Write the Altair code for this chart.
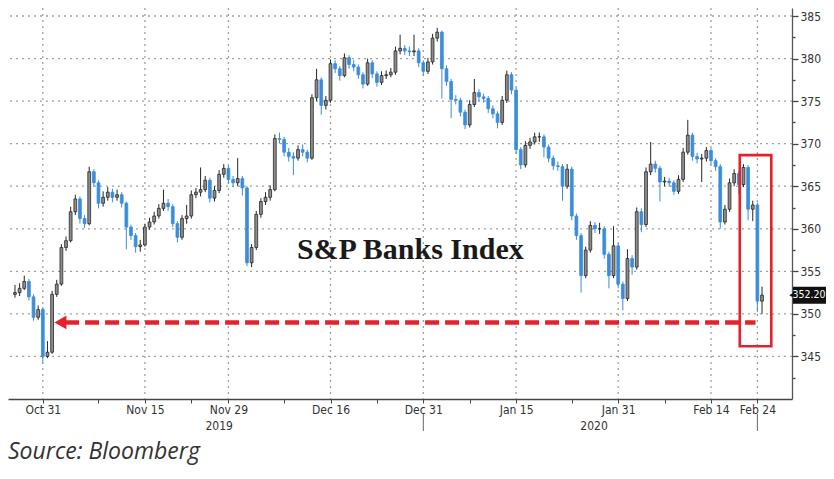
import altair as alt
import pandas as pd

# ---------------- data ----------------
# half-day candles, Oct 28 2019 .. Feb 24 2020 (trading-day index = bar/2)
first_open = 352.3
closes = [
    352.5, 353.0, 353.8, 352.0, 349.6, 350.5, 345.0, 345.5, 352.3, 353.5,
    357.8, 358.6, 362.0, 363.5, 361.2, 360.6, 366.7, 365.4, 363.0, 363.7,
    364.3, 363.7, 364.0, 363.0, 360.2, 359.2, 357.9, 358.1, 360.2, 360.8,
    361.5, 362.4, 363.0, 362.6, 360.6, 359.0, 361.2, 361.5, 364.0, 364.3,
    364.6, 365.7, 363.6, 364.5, 366.4, 367.1, 365.8, 365.4, 365.9, 364.8,
    356.0, 357.8, 361.7, 363.2, 363.7, 364.6, 370.6, 370.5, 369.0, 368.5,
    368.3, 369.3, 369.0, 368.3, 375.4, 377.5, 374.5, 375.1, 379.4, 378.8,
    378.0, 380.1, 379.3, 379.0, 378.1, 377.0, 379.5, 378.2, 377.2, 378.0,
    378.1, 378.4, 380.9, 381.2, 380.9, 380.8, 380.9, 379.5, 378.5, 379.6,
    382.4, 383.1, 378.8, 377.3, 375.2, 375.1, 373.7, 372.2, 374.6, 376.0,
    375.5, 375.3, 374.1, 373.5, 372.5, 375.1, 378.1, 376.3, 369.3, 367.5,
    369.8, 370.2, 370.8, 370.8, 369.6, 368.3, 367.4, 367.3, 365.0, 367.0,
    361.5, 359.2, 354.5, 357.5, 360.4, 360.0, 360.0, 357.0, 354.5, 358.0,
    353.5, 351.8, 356.5, 355.5, 362.0, 360.5, 366.7, 367.6, 367.1, 365.5,
    365.6, 365.4, 364.4, 365.8, 369.0, 371.0, 368.5, 368.2, 368.3, 369.2,
    368.0, 367.3, 360.8, 362.3, 365.4, 366.5, 365.2, 367.2, 362.3, 362.8,
    351.5, 352.2,
]
highs = [
    353.4, 353.6, 354.5, 354.1, 352.3, 351.0, 350.8, 346.8, 352.7, 354.0,
    358.2, 359.1, 362.6, 364.0, 363.8, 361.6, 367.3, 367.0, 365.7, 364.4,
    364.9, 364.7, 364.6, 364.3, 363.2, 360.5, 359.5, 358.7, 360.6, 361.3,
    362.0, 362.9, 364.6, 363.5, 362.9, 360.9, 361.6, 362.8, 364.5, 364.8,
    367.2, 366.2, 366.0, 365.0, 366.9, 367.6, 367.4, 366.2, 368.3, 366.2,
    365.0, 358.2, 362.1, 363.6, 364.3, 365.1, 371.1, 371.3, 370.8, 369.5,
    369.0, 369.8, 369.9, 369.3, 375.8, 378.8, 377.8, 375.6, 379.9, 379.8,
    379.1, 380.6, 380.4, 379.8, 379.3, 378.4, 380.0, 379.8, 378.5, 378.5,
    378.6, 378.9, 381.4, 382.8, 381.6, 381.4, 382.8, 381.2, 379.8, 380.1,
    382.9, 383.6, 383.3, 379.2, 377.6, 375.7, 375.4, 374.0, 375.1, 377.6,
    376.4, 375.9, 375.6, 374.5, 373.8, 375.6, 378.6, 378.4, 376.6, 369.6,
    370.3, 370.7, 371.3, 371.3, 371.1, 369.9, 368.6, 367.9, 367.6, 367.6,
    367.3, 361.8, 359.5, 357.9, 360.9, 360.8, 360.7, 360.3, 357.3, 360.3,
    358.3, 353.8, 357.6, 356.9, 362.5, 362.4, 367.2, 370.2, 368.0, 367.4,
    366.1, 366.0, 365.7, 366.3, 369.5, 372.8, 371.3, 368.9, 368.8, 369.6,
    369.5, 368.3, 367.6, 362.8, 365.9, 367.0, 366.8, 367.6, 367.5, 363.3,
    363.1, 353.2,
]
lows = [
    351.9, 352.1, 352.8, 351.6, 349.2, 349.3, 344.2, 344.8, 345.3, 352.0,
    353.3, 357.4, 358.4, 361.6, 360.6, 360.1, 360.4, 364.9, 362.4, 362.6,
    363.3, 363.1, 363.3, 362.5, 357.6, 358.7, 357.2, 357.3, 357.9, 359.9,
    360.5, 361.2, 362.1, 362.1, 360.2, 358.4, 358.7, 360.6, 361.2, 363.6,
    363.8, 364.3, 363.1, 363.2, 364.2, 366.0, 365.3, 364.9, 365.0, 363.9,
    355.6, 355.5, 357.5, 361.3, 362.8, 363.3, 364.4, 370.0, 368.5, 367.9,
    366.3, 368.0, 368.5, 367.8, 368.1, 375.0, 373.4, 374.0, 374.8, 378.3,
    377.4, 377.8, 378.8, 378.5, 377.6, 376.5, 376.8, 377.7, 376.7, 376.9,
    377.6, 377.8, 378.1, 380.5, 380.4, 380.3, 380.3, 379.0, 378.0, 378.2,
    379.3, 382.0, 375.3, 376.8, 373.0, 374.6, 373.2, 371.7, 371.9, 374.3,
    375.0, 374.8, 373.6, 373.0, 371.8, 372.2, 374.8, 375.8, 368.8, 367.0,
    367.2, 369.4, 369.9, 370.2, 368.4, 367.8, 366.9, 366.8, 363.3, 364.7,
    361.0, 358.7, 352.5, 354.2, 357.2, 359.5, 359.4, 356.5, 353.0, 354.2,
    353.0, 350.4, 351.5, 354.6, 355.2, 359.6, 360.2, 366.3, 366.6, 363.2,
    365.0, 364.9, 364.0, 364.1, 365.5, 368.7, 368.0, 367.7, 365.5, 367.9,
    367.5, 366.8, 360.0, 360.5, 362.0, 365.0, 364.1, 364.9, 361.0, 360.9,
    350.2, 350.0,
]

# axis ticks (trading-day index) and labels
tick_days = [3, 9, 14, 19, 23, 29, 34, 39, 44, 49, 54, 60, 65, 70, 75, 80]
tick_labels = ["Oct 31", "", "Nov 15", "", "Nov 29", "", "Dec 16", "", "Dec 31", "",
               "Jan 15", "", "Jan 31", "", "Feb 14", "Feb 24"]
grid_days = [3, 14, 23, 34, 44, 54, 65, 75, 80]
grid_prices = [345, 350, 355, 360, 365, 370, 375, 380, 385]
y_ticks = [342.5, 345, 347.5, 350, 352.5, 355, 357.5, 360, 362.5, 365, 367.5,
           370, 372.5, 375, 377.5, 380, 382.5, 385]
year_labels = ["2019", "2020"]
year_days = [22.0, 62.4]
year_sep_days = [44, 80]

# annotations
title_text = "S&P Banks Index"
title_day = 42.6
title_price = 357.5
arrow_price = 349.0
arrow_start = 5.4
arrow_end = 79.8
arrow_tip = 4.9
box_days = [78.1, 81.5]
box_prices = [346.2, 368.65]
last_price = 352.2
source_text = "Source: Bloomberg"

# ---------------- build tables ----------------
opens = [first_open] + closes[:-1]
bars = pd.DataFrame({
    "t": [i / 2 for i in range(len(closes))],
    "open": opens,
    "close": closes,
    "high": highs,
    "low": lows,
})
bars["dir"] = ["up" if c >= o else "down" for o, c in zip(opens, closes)]

AXIS_FONT = "DejaVu Sans Condensed, Liberation Sans Narrow, DejaVu Sans, sans-serif"
RED = "#e3232c"
BLUE = "#3a8dda"

PLOT_W, PLOT_H = 784, 391
xscale = alt.Scale(domain=[-0.213, -0.213 + PLOT_W / 9.4], nice=False, zero=False)
yscale = alt.Scale(domain=[340, 385.94], nice=False, zero=False)

label_expr = "".join(f"datum.value == {d} ? '{l}' : " for d, l in zip(tick_days, tick_labels)) + "''"
xaxis = alt.Axis(values=tick_days, labelExpr=label_expr, grid=False, tickSize=4,
                 domainColor="#444", tickColor="#444", domainWidth=1.3,
                 labelFont=AXIS_FONT, labelFontSize=12, labelColor="#333",
                 labelPadding=1, labelOverlap=False, labelFlush=False, title=None)
yaxis = alt.Axis(orient="right", values=y_ticks,
                 labelExpr="datum.value % 5 == 0 ? format(datum.value, 'd') : ''",
                 grid=False,
                 tickSize=alt.condition("datum.value % 5 == 0", alt.value(6), alt.value(3)),
                 domainColor="#555", tickColor="#444", domainWidth=1.3, tickWidth=1.3,
                 labelFont=AXIS_FONT, labelFontSize=12, labelColor="#333",
                 labelPadding=2, title=None)


def X(field="t"):
    return alt.X(f"{field}:Q", scale=xscale, axis=xaxis, title=None)


def Y(field="p"):
    return alt.Y(f"{field}:Q", scale=yscale, axis=yaxis, title=None)


fill_scale = alt.Scale(domain=["up", "down"], range=["#8e8e8e", BLUE])
stroke_scale = alt.Scale(domain=["up", "down"], range=["#262626", BLUE])

grid_dash = [2, 4]
hgrid = alt.Chart(pd.DataFrame({"p": grid_prices})).mark_rule(
    color="#a0a0a0", strokeWidth=1.3, strokeDash=grid_dash).encode(y=Y())
vgrid = alt.Chart(pd.DataFrame({"t": grid_days})).mark_rule(
    color="#a0a0a0", strokeWidth=1.3, strokeDash=grid_dash).encode(x=X())

year_sep = alt.Chart(pd.DataFrame({"t": year_sep_days})).mark_rule(
    color="#666", strokeWidth=1).encode(x=X(), y=alt.value(406), y2=alt.value(423))
years = alt.Chart(pd.DataFrame({"t": year_days, "label": year_labels})).mark_text(
    font=AXIS_FONT, fontSize=12, color="#333", baseline="middle").encode(
    x=X(), y=alt.value(418), text="label:N")

wicks = alt.Chart(bars).mark_rule(strokeWidth=1).encode(
    x=X(), y=Y("low"), y2="high:Q",
    stroke=alt.Stroke("dir:N", scale=stroke_scale, legend=None))
bodies = alt.Chart(bars).mark_bar(size=2.8, strokeWidth=0.8).encode(
    x=X(), y=Y("open"), y2="close:Q",
    fill=alt.Fill("dir:N", scale=fill_scale, legend=None),
    stroke=alt.Stroke("dir:N", scale=stroke_scale, legend=None))

box = alt.Chart(pd.DataFrame({"t": [box_days[0]], "t2": [box_days[1]],
                              "p": [box_prices[0]], "p2": [box_prices[1]]})).mark_rect(
    fillOpacity=0, stroke=RED, strokeWidth=2.6).encode(
    x=X(), x2="t2:Q", y=Y(), y2="p2:Q")

arrow_line = alt.Chart(pd.DataFrame({"t": [arrow_start], "t2": [arrow_end],
                                     "p": [arrow_price]})).mark_rule(
    color=RED, strokeWidth=4.5, strokeDash=[14, 6]).encode(x=X(), x2="t2:Q", y=Y())
arrow_head = alt.Chart(pd.DataFrame({"t": [arrow_tip], "p": [arrow_price]})).mark_point(
    shape="triangle-left", filled=True, size=190, color=RED, opacity=1).encode(x=X(), y=Y())

title = alt.Chart(pd.DataFrame({"t": [title_day], "p": [title_price], "txt": [title_text]})).mark_text(
    font="Liberation Serif", fontWeight="bold", fontSize=30, color="#1a1a1a",
    baseline="middle", align="center").encode(x=X(), y=Y(), text="txt:N")

tag_df = pd.DataFrame({"p": [last_price], "txt": [f"{last_price:.2f}"]})
tag_box = alt.Chart(tag_df).transform_calculate(
    lo="datum.p - 1.0", hi="datum.p + 1.0").mark_rect(color="#111").encode(
    x=alt.value(PLOT_W + 1), x2=alt.value(PLOT_W + 34), y=Y("lo"), y2="hi:Q")
tag_notch = alt.Chart(tag_df).mark_point(shape="triangle-left", filled=True, size=40,
                                         color="#111", opacity=1).encode(
    x=alt.value(PLOT_W), y=Y())
tag_text = alt.Chart(tag_df).mark_text(font=AXIS_FONT, fontSize=10.5, color="white",
                                       align="center", baseline="middle").encode(
    x=alt.value(PLOT_W + 17), y=Y(), text="txt:N")

source = alt.Chart(pd.DataFrame({"txt": [source_text]})).mark_text(
    font="Open Sans", fontStyle="italic", fontSize=23, color="#333",
    align="left", baseline="middle").encode(
    x=alt.value(0), y=alt.value(444), text="txt:N")

chart = alt.layer(
    hgrid, vgrid, year_sep, years, wicks, bodies, box, arrow_line, arrow_head,
    title, tag_box, tag_notch, tag_text, source
).properties(
    width=PLOT_W, height=PLOT_H,
    autosize=alt.AutoSizeParams(type="none"),
    padding={"left": 0, "top": 0, "right": 34, "bottom": 66},
    background="white",
).configure_view(stroke=None)

chart.save("out.html", embed_options={"renderer": "svg", "actions": False})
